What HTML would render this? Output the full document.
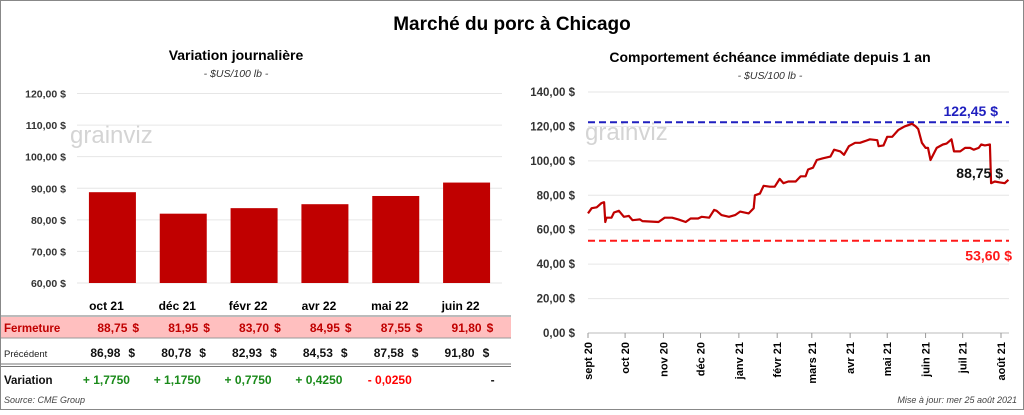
<!DOCTYPE html>
<html><head><meta charset="utf-8"><style>
html,body{margin:0;padding:0;background:#fff}
body{width:1024px;height:410px;overflow:hidden;font-family:"Liberation Sans",sans-serif}
svg text{font-family:"Liberation Sans",sans-serif}
</style></head><body>
<svg id="c" width="1024" height="410" viewBox="0 0 1024 410">
<rect x="0.5" y="0.5" width="1023" height="409" fill="#fff" stroke="#888"/>
<text x="512" y="30" text-anchor="middle" font-size="19" font-weight="bold">Marché du porc à Chicago</text>
<text x="236" y="60" text-anchor="middle" font-size="14" font-weight="bold">Variation  journalière</text>
<text x="236" y="77" text-anchor="middle" font-size="10.5" font-style="italic" fill="#333">- $US/100 lb -</text>
<text x="770" y="62" text-anchor="middle" font-size="14" font-weight="bold">Comportement  échéance immédiate depuis 1 an</text>
<text x="770" y="79" text-anchor="middle" font-size="10.5" font-style="italic" fill="#333">- $US/100 lb -</text>
<g id="left"></g>
<g id="right"></g>
<g id="table"></g>
<text x="4" y="403" font-size="9" font-style="italic" fill="#444">Source: CME Group</text>
<text x="1017" y="403" text-anchor="end" font-size="9" font-style="italic" fill="#444">Mise à jour: mer 25 août 2021</text>
</svg>
<script>
const barCategories=["oct 21","déc 21","févr 22","avr 22","mai 22","juin 22"];
const closeValues=[88.75,81.95,83.70,84.95,87.55,91.80];
const prevValues=[86.98,80.78,82.93,84.53,87.58,91.80];
const variationLabels=["+ 1,7750","+ 1,1750","+ 0,7750","+ 0,4250","- 0,0250","-"];
const barTicks=[60,70,80,90,100,110,120];
const lineDays=[0,3,7,11,13,14,15,19,21,25,29,33,36,42,44,57,62,68,73,79,83,89,92,98,102,104,108,114,119,123,130,134,135,139,142,147,151,155,158,162,168,172,176,178,182,185,190,196,199,204,207,211,216,220,224,228,234,235,239,242,246,251,256,262,265,267,270,273,275,277,282,287,290,294,296,301,305,309,312,316,318,321,325,326,329,333,337,340];
const lineValues=[69.5,72.5,73,75.5,76,64.5,67,67,70,71,67.5,68,65.5,66,65,64.5,67,67,66,64.5,66.5,66.5,67.5,67,71.5,71,68.5,67.5,68.5,70.5,69.5,72.5,80,81,85.5,85,85,89.5,87,88,88,91,91,95,96,100.5,101.5,102.5,106.5,105.5,103.5,108.5,110.5,110.5,111.5,112.5,112,108.5,109,114,114,118,120,121.5,120,118.5,110.5,107.5,107.5,100.5,107.5,109.5,110,112.5,105.5,105.5,107.5,107.5,106.5,107.5,109.5,109,109.5,87,88,87.5,87,89];
const monthLabels=["sept 20","oct 20","nov 20","déc 20","janv 21","févr 21","mars 21","avr 21","mai 21","juin 21","juil 21","août 21"];
const monthDays=[0,30,61,91,122,153,181,212,242,273,303,334];
const lineTicks=[0,20,40,60,80,100,120,140];
const maxLevel=[122.45];
const minLevel=[53.60];
const NS="http://www.w3.org/2000/svg";
function mk(parent,tag,attrs,txt){const e=document.createElementNS(NS,tag);for(const k in attrs)e.setAttribute(k,attrs[k]);if(txt!==undefined)e.textContent=txt;parent.appendChild(e);return e;}
const fmt=v=>v.toFixed(2).replace('.',',');
// left bar chart
const L=document.getElementById('left');
const lx0=77,lx1=502,yb=(v)=>283-(v-60)*(189.5/60);
const band=(lx1-lx0)/barCategories.length;
const wm1=mk(L,'text',{x:70,y:143,'font-size':24,fill:'#d4d4d4'},'grainviz');


barTicks.forEach(t=>{
 const g=mk(L,'line',{x1:lx0,x2:lx1,y1:yb(t),y2:yb(t),stroke:'#e6e6e6'});
 
 
 const tl=mk(L,'text',{x:66,y:yb(t)+4,'text-anchor':'end','font-size':10.5,'font-weight':'bold',fill:'#333'},fmt(t)+' $');
 
 
});
closeValues.forEach((v,i)=>{
 const cx=lx0+band*(i+0.5);
 const r=mk(L,'rect',{x:cx-23.5,y:yb(v),width:47,height:yb(60)-yb(v),fill:'#c00000'});
 
 
});
// table
const T=document.getElementById('table');
const bg=mk(T,'rect',{x:1,y:317,width:510,height:21,fill:'#ffbfbf'});


[[316,'#777'],[338,'#999'],[364,'#777'],[366.5,'#777']].forEach(([y,c])=>{
 const l=mk(T,'line',{x1:1,x2:511,y1:y,y2:y,stroke:c,'stroke-width':1});
 
 
});
const r1=mk(T,'text',{x:4,y:332,'font-size':11.5,'font-weight':'bold',fill:'#c00000'},'Fermeture');


const r2=mk(T,'text',{x:4,y:357,'font-size':9.5,fill:'#222'},'Précédent');


const r3=mk(T,'text',{x:4,y:384,'font-size':11.5,'font-weight':'bold',fill:'#111'},'Variation');


barCategories.forEach((c,i)=>{
 const cx=lx0+band*(i+0.5);
 const h=mk(T,'text',{x:cx-6,y:310,'text-anchor':'middle','font-size':12,'font-weight':'bold'},c);
 
 
 const a=mk(T,'text',{x:cx+15,y:332,'text-anchor':'end','font-size':12,'font-weight':'bold',fill:'#c00000'},fmt(closeValues[i]));
 
 
 const a2=mk(T,'text',{x:cx+20,y:332,'font-size':12,'font-weight':'bold',fill:'#c00000'},'$');
 
 
 const b=mk(T,'text',{x:cx+8,y:357,'text-anchor':'end','font-size':12,'font-weight':'bold',fill:'#111'},fmt(prevValues[i]));
 
 
 const b2=mk(T,'text',{x:cx+16,y:357,'font-size':12,'font-weight':'bold',fill:'#111'},'$');
 
 
 const lab=variationLabels[i];
 const col=lab.startsWith('+')?'#1a8a1a':(lab==='-'?'#111':'#ff0000');
 const vx=lab==='-'?cx+26:cx-6;
 const d=mk(T,'text',{x:vx,y:384,'text-anchor':'middle','font-size':12,'font-weight':'bold',fill:col},lab);
 
 
});
// right line chart
const R=document.getElementById('right');
const rx0=588,rx1=1009,xd=d=>588+d*(413/334),yl=v=>333-v*(241/140);
const wm2=mk(R,'text',{x:585,y:140,'font-size':24,fill:'#d4d4d4'},'grainviz');


lineTicks.forEach(t=>{
 const g=mk(R,'line',{x1:rx0,x2:rx1,y1:yl(t),y2:yl(t),stroke:t===0?'#bbb':'#e6e6e6'});
 
 
 const tl=mk(R,'text',{x:575,y:yl(t)+4,'text-anchor':'end','font-size':11.5,'font-weight':'bold',fill:'#333'},fmt(t)+' $');
 
 
});
monthDays.forEach((d,i)=>{
 const x=xd(d);
 const tk=mk(R,'line',{x1:x,x2:x,y1:333,y2:338,stroke:'#999'});
 
 
 const t=mk(R,'text',{x:x+4,y:342,'text-anchor':'end','font-size':11,'font-weight':'bold',transform:`rotate(-90 ${x+4} 342)`},monthLabels[i]);
 
 
});
const hi=mk(R,'line',{x1:rx0,x2:rx1,y1:yl(maxLevel[0]),y2:yl(maxLevel[0]),stroke:'#1f1fbf','stroke-width':2,'stroke-dasharray':'7 4'});


const lo=mk(R,'line',{x1:rx0,x2:rx1,y1:yl(minLevel[0]),y2:yl(minLevel[0]),stroke:'#ff1a1a','stroke-width':2,'stroke-dasharray':'7 4'});


const pts=lineDays.map((d,i)=>xd(d).toFixed(1)+','+yl(lineValues[i]).toFixed(1)).join(' ');
const pl=mk(R,'polyline',{points:pts,fill:'none',stroke:'#c00000','stroke-width':2.2,'stroke-linejoin':'round'});


const hl=mk(R,'text',{x:998,y:yl(maxLevel[0])-6,'text-anchor':'end','font-size':14,'font-weight':'bold',fill:'#1f1fbf'},fmt(maxLevel[0])+' $');


const ll=mk(R,'text',{x:1012,y:yl(minLevel[0])+20,'text-anchor':'end','font-size':14,'font-weight':'bold',fill:'#ff1a1a'},fmt(minLevel[0])+' $');


const cl=mk(R,'text',{x:1003,y:178,'text-anchor':'end','font-size':14,'font-weight':'bold',fill:'#111'},'88,75 $');


</script>
</body></html>
